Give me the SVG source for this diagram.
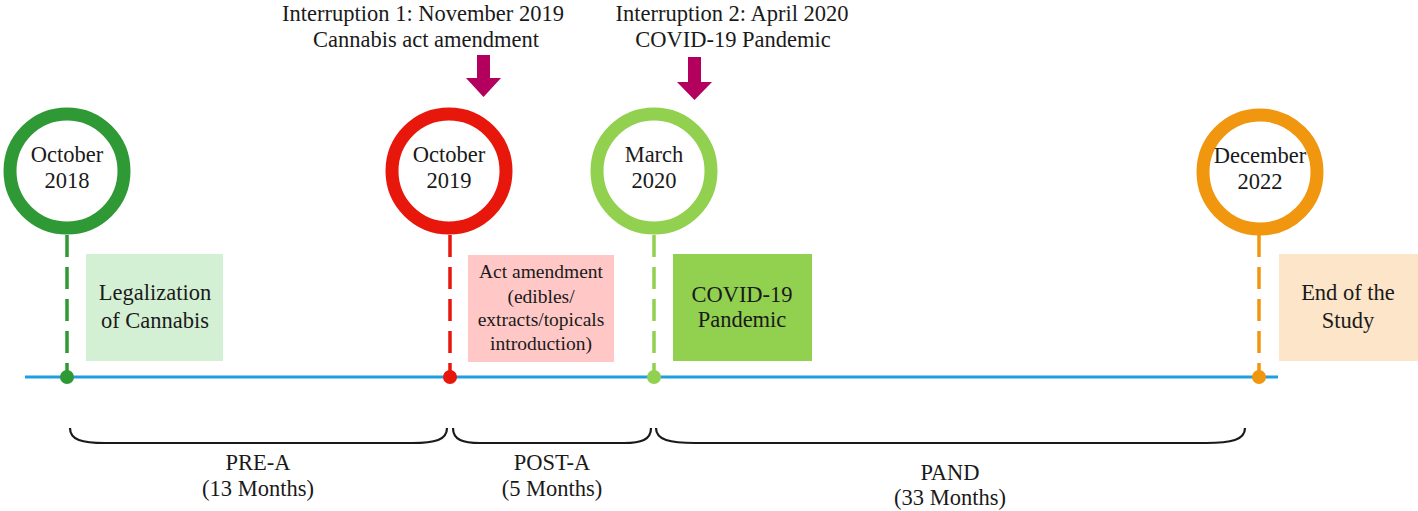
<svg xmlns="http://www.w3.org/2000/svg" width="1418" height="511" viewBox="0 0 1418 511">
<defs>
<style>
text{font-family:"Liberation Serif","Times New Roman",serif;fill:#1a1a1a;text-anchor:middle}
.ring{fill:#fff;stroke-width:13}
.dash{stroke-width:3.5;stroke-dasharray:22 10;fill:none}
.t20{font-size:22.5px}
.t18{font-size:19.5px}
.t22{font-size:22.5px}
.brace{fill:none;stroke:#1a1a1a;stroke-width:2.2}
.arrow{fill:#b3005f}
</style>
</defs>
<rect width="1418" height="511" fill="#fff"/>
<g id="connectors">
<line x1="25" y1="377" x2="1278" y2="377" stroke="#1f9fe2" stroke-width="3"/>
<line class="dash" x1="67" y1="235" x2="67" y2="377" stroke="#2f9a35"/>
<line class="dash" x1="450" y1="235" x2="450" y2="377" stroke="#e8170c"/>
<line class="dash" x1="654" y1="235" x2="654" y2="377" stroke="#92d050"/>
<line class="dash" x1="1259" y1="235" x2="1259" y2="377" stroke="#f0960f"/>
<circle cx="67" cy="377" r="7" fill="#2f9a35"/>
<circle cx="450" cy="377" r="7" fill="#e8170c"/>
<circle cx="654" cy="377" r="7" fill="#92d050"/>
<circle cx="1259" cy="377" r="7" fill="#f0960f"/>
<path class="arrow" d="M477,55 H490 V78 H501 L483.5,97 L466,78 H477 Z"/>
<path class="arrow" d="M688,57 H701 V82 H712 L694.5,100 L677,82 H688 Z"/>
</g>
<g id="node-oct2018">
<circle class="ring" cx="67" cy="171" r="57" stroke="#2f9a35"/>
<text class="t20" x="67" y="162">October</text>
<text class="t20" x="67" y="188">2018</text>
</g>
<g id="node-oct2019">
<circle class="ring" cx="449" cy="171" r="57" stroke="#e8170c"/>
<text class="t20" x="449" y="162">October</text>
<text class="t20" x="449" y="188">2019</text>
</g>
<g id="node-mar2020">
<circle class="ring" cx="654" cy="171" r="57" stroke="#92d050"/>
<text class="t20" x="654" y="162">March</text>
<text class="t20" x="654" y="188">2020</text>
</g>
<g id="node-dec2022">
<circle class="ring" cx="1260" cy="172" r="57" stroke="#f0960f"/>
<text class="t20" x="1260" y="163">December</text>
<text class="t20" x="1260" y="189">2022</text>
</g>
<g id="box-legalization">
<rect x="86" y="254" width="137" height="107" fill="#d4f0d4"/>
<text class="t20" x="155" y="300">Legalization</text>
<text class="t20" x="155" y="328">of Cannabis</text>
</g>
<g id="box-amendment">
<rect x="468" y="255" width="146" height="107" fill="#ffc8c6"/>
<text class="t18" x="541" y="278">Act amendment</text>
<text class="t18" x="541" y="303">(edibles/</text>
<text class="t18" x="541" y="326">extracts/topicals</text>
<text class="t18" x="541" y="350">introduction)</text>
</g>
<g id="box-covid">
<rect x="673" y="254" width="139" height="107" fill="#92d050"/>
<text class="t20" x="742" y="302">COVID-19</text>
<text class="t20" x="742" y="327">Pandemic</text>
</g>
<g id="box-end">
<rect x="1279" y="254" width="139" height="107" fill="#fce5c8"/>
<text class="t20" x="1348" y="300">End of the</text>
<text class="t20" x="1348" y="328">Study</text>
</g>
<g id="interruption1">
<text class="t22" x="423" y="21">Interruption 1: November 2019</text>
<text class="t22" x="426" y="47">Cannabis act amendment</text>
</g>
<g id="interruption2">
<text class="t22" x="732" y="21">Interruption 2: April 2020</text>
<text class="t22" x="733" y="47">COVID-19 Pandemic</text>
</g>
<g id="period-prea">
<path class="brace" d="M70,428 C70,440 82,443 105,443 L412,443 C435,443 447,440 447,428"/>
<text class="t20" x="258" y="470">PRE-A</text>
<text class="t20" x="258" y="496">(13 Months)</text>
</g>
<g id="period-posta">
<path class="brace" d="M453,428 C453,440 463,443 480,443 L624,443 C641,443 651,440 651,428"/>
<text class="t20" x="552" y="470">POST-A</text>
<text class="t20" x="552" y="496">(5 Months)</text>
</g>
<g id="period-pand">
<path class="brace" d="M656,428 C656,440 670,443 695,443 L1206,443 C1231,443 1245,440 1245,428"/>
<text class="t20" x="950" y="480">PAND</text>
<text class="t20" x="950" y="505">(33 Months)</text>
</g>
</svg>
